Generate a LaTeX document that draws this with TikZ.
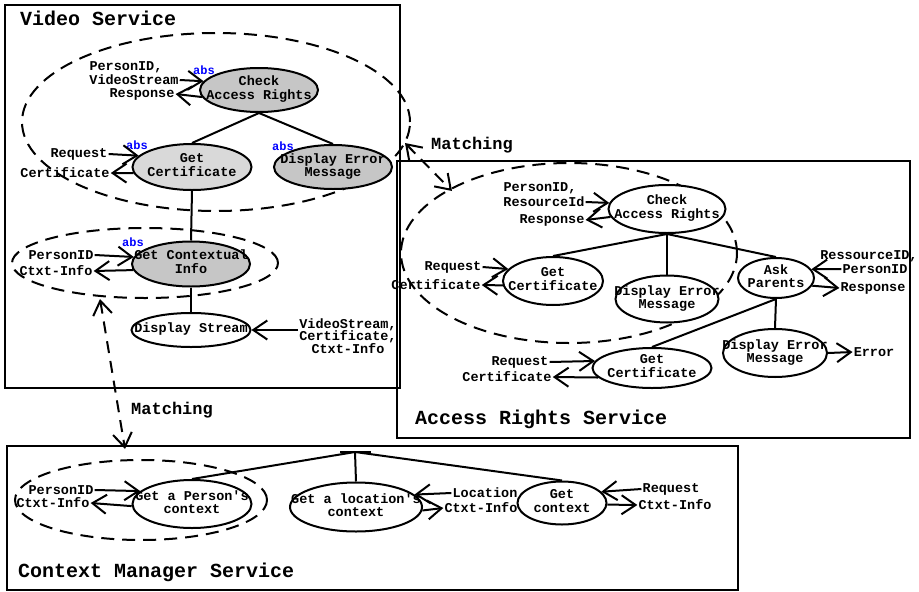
\documentclass[tikz,border=0pt]{standalone}
\usepackage{fontspec}
\setmonofont{Liberation Mono}
\usetikzlibrary{shapes.geometric,arrows.meta}

\newcommand{\codefont}{\ttfamily\bfseries\fontsize{13.5}{13.5}\selectfont}
\newcommand{\servicefont}{\ttfamily\bfseries\fontsize{20}{20}\selectfont}
\newcommand{\matchfont}{\ttfamily\bfseries\fontsize{17}{17}\selectfont}
\newcommand{\absfont}{\ttfamily\bfseries\fontsize{12}{12}\selectfont}
\newcommand{\ucbox}[1]{\makebox[0pt]{\begin{tabular}{@{}c@{}}#1\end{tabular}}}

\tikzset{
	usecase/.style={ellipse, draw, line width=2pt, inner sep=0pt, font=\codefont},
	absuc/.style={usecase, fill=gray!45},
	param/.style={inner sep=1pt, align=center, font=\codefont},
	abslabel/.style={inner sep=0pt, text=blue, font=\absfont},
	title/.style={anchor=west, inner sep=0pt, font=\servicefont},
	service/.style={line width=2pt},
	group/.style={line width=2pt, dash pattern=on 13pt off 8pt},
	link/.style={line width=2pt},
	flow/.style={line width=2pt, -{Straight Barb[length=14pt, width=19pt]}},
	match/.style={line width=2pt, dash pattern=on 12pt off 8pt,
		{Straight Barb[length=14pt, width=19pt]}-{Straight Barb[length=14pt, width=19pt]}}
}

\begin{document}
\begin{tikzpicture}[x=1pt, y=-1pt]
\useasboundingbox (0,0) rectangle (919,592);

\draw[service] (5,5) rectangle (400,388);
\node[title] (vsTitle) at (20,18) {Video Service};
\draw[group] (216,122) ellipse [x radius=194pt, y radius=89pt];
\draw[group] (145,263) ellipse [x radius=133pt, y radius=35pt];

\node[absuc, minimum width=118pt, minimum height=44pt] (vsCheck) at (259,90) {\ucbox{Check\\Access Rights}};
\node[usecase, fill=gray!30, minimum width=119pt, minimum height=46pt] (vsCert) at (192,167) {\ucbox{Get\\Certificate}};
\node[absuc, minimum width=118pt, minimum height=44pt] (vsError) at (333,167) {\ucbox{Display Error\\Message}};
\node[absuc, minimum width=118pt, minimum height=45pt] (vsCtx) at (191,264) {\ucbox{Get Contextual\\Info}};
\node[usecase, minimum width=119pt, minimum height=34pt] (vsStream) at (191,330) {\ucbox{Display Stream}};

\node[abslabel] (vsCheckAbs) at (204,70) {abs};
\node[abslabel] (vsCertAbs) at (137,145) {abs};
\node[abslabel] (vsErrorAbs) at (283,146) {abs};
\node[abslabel] (vsCtxAbs) at (133,242) {abs};

\draw[link] (vsCheck.south) -- (vsCert.north);
\draw[link] (vsCheck.south) -- (vsError.north);
\draw[link] (vsCert.south) -- (vsCtx.north);
\draw[link] (vsCtx.south) -- (vsStream.north);

\node[param] (vsPid) at (126,67) {PersonID,};
\node[param] (vsVideo) at (134,80) {VideoStream};
\node[param] (vsResp) at (142,94) {Response};
\draw[flow] (vsVideo.east) -- (vsCheck.171);
\draw[flow] (vsCheck.187) -- (vsResp.east);

\node[param] (vsReq) at (79,154) {Request};
\node[param] (vsCertOut) at (65,173) {Certificate};
\draw[flow] (vsReq.east) -- (vsCert.168);
\draw[flow] (vsCert.186) -- (vsCertOut.east);

\node[param] (vsCtxPid) at (61,255) {PersonID};
\node[param] (vsCtxInfo) at (56,271) {Ctxt-Info};
\draw[flow] (vsCtxPid.east) -- (vsCtx.173);
\draw[flow] (vsCtx.186) -- (vsCtxInfo.east);

\node[param, font=\ttfamily\bfseries\fontsize{13.5}{12.5}\selectfont] (vsInput) at (348,336) {VideoStream,\\Certificate,\\Ctxt-Info};
\draw[flow] (vsInput.west |- vsStream.east) -- (vsStream.east);

\coordinate (vsMatch) at (100,299);
\coordinate (cmMatch) at (125,449);
\draw[match] (vsMatch) -- (cmMatch);
\node[param, anchor=west, font=\matchfont] (cmMatchText) at (130,410) {Matching};

\coordinate (vsMatchB) at (405,143);
\coordinate (arMatch) at (452,191);
\draw[match] (vsMatchB) -- (arMatch);
\node[param, anchor=west, font=\matchfont] (arMatchText) at (430,145) {Matching};

\draw[service] (397,161) rectangle (910,438);
\node[title] (arTitle) at (415,419) {Access Rights Service};
\draw[group] (569,253) ellipse [x radius=168pt, y radius=90pt];

\node[usecase, fill=white, minimum width=117pt, minimum height=48pt] (arCheck) at (667,209) {\ucbox{Check\\Access Rights}};
\node[usecase, fill=white, minimum width=100pt, minimum height=48pt] (arCert) at (553,281) {\ucbox{Get\\Certificate}};
\node[usecase, fill=white, minimum width=103pt, minimum height=47pt] (arError) at (667,299) {\ucbox{Display Error\\Message}};
\node[usecase, fill=white, minimum width=76pt, minimum height=40pt] (arAsk) at (776,278) {\ucbox{Ask\\Parents}};
\node[usecase, fill=white, minimum width=119pt, minimum height=40pt] (arCertB) at (652,368) {\ucbox{Get\\Certificate}};
\node[usecase, fill=white, minimum width=104pt, minimum height=48pt] (arErrorB) at (775,353) {\ucbox{Display Error\\Message}};

\draw[link] (arCheck.south) -- (arCert.north);
\draw[link] (arCheck.south) -- (arError.north);
\draw[link] (arCheck.south) -- (arAsk.north);
\draw[link] (arAsk.south) -- (arCertB.north);
\draw[link] (arAsk.south) -- (arErrorB.north);

\node[param] (arPid) at (540,188) {PersonID,};
\node[param] (arRes) at (544,202) {ResourceId};
\node[param] (arResp) at (552,220) {Response};
\draw[flow] (arRes.east) -- (arCheck.174);
\draw[flow] (arCheck.188) -- (arResp.east);

\node[param] (arReq) at (453,267) {Request};
\node[param] (arCertOut) at (436,285) {Certificate};
\draw[flow] (arReq.east) -- (arCert.165);
\draw[flow] (arCert.185) -- (arCertOut.east);

\node[param] (arAskRes) at (869,256) {RessourceID,};
\node[param] (arAskPid) at (875,269) {PersonID};
\node[param] (arAskResp) at (873,288) {Response};
\draw[flow] (arAskPid.west) -- (arAsk.14);
\draw[flow] (arAsk.348) -- (arAskResp.west);

\node[param] (arReqB) at (520,362) {Request};
\node[param] (arCertOutB) at (507,377) {Certificate};
\draw[flow] (arReqB.east) -- (arCertB.173);
\draw[flow] (arCertB.190) -- (arCertOutB.east);

\node[param] (arErr) at (874,352) {Error};
\draw[flow] (arErrorB.east) -- (arErr.west);

\draw[service] (7,446) rectangle (738,590);
\node[title] (cmTitle) at (18,572) {Context Manager Service};
\draw[group] (141,500) ellipse [x radius=126pt, y radius=40pt];

\coordinate (cmRoot) at (355,452);
\coordinate (cmBarL) at (340,452);
\coordinate (cmBarR) at (371,452);
\draw[link] (cmBarL) -- (cmBarR);

\node[usecase, minimum width=119pt, minimum height=48pt] (cmPerson) at (192,504) {\ucbox{Get a Person's\\context}};
\node[usecase, minimum width=132pt, minimum height=49pt] (cmLocation) at (356,507) {\ucbox{Get a location's\\context}};
\node[usecase, minimum width=89pt, minimum height=43pt] (cmGet) at (562,503) {\ucbox{Get\\context}};

\draw[link] (cmRoot) -- (cmPerson.north);
\draw[link] (cmRoot) -- (cmLocation.north);
\draw[link] (cmRoot) -- (cmGet.north);

\node[param] (cmPid) at (61,490) {PersonID};
\node[param] (cmInfo) at (53,503) {Ctxt-Info};
\draw[flow] (cmPid.east) -- (cmPerson.166);
\draw[flow] (cmPerson.182) -- (cmInfo.east);

\node[param] (cmLoc) at (485,493) {Location};
\node[param] (cmLocInfo) at (481,508) {Ctxt-Info};
\draw[flow] (cmLoc.west) -- (cmLocation.12);
\draw[flow] (cmLocation.357) -- (cmLocInfo.west);

\node[param] (cmReq) at (671,489) {Request};
\node[param] (cmReqInfo) at (675,505) {Ctxt-Info};
\draw[flow] (cmReq.west) -- (cmGet.16);
\draw[flow] (cmGet.358) -- (cmReqInfo.west);

\end{tikzpicture}
\end{document}
